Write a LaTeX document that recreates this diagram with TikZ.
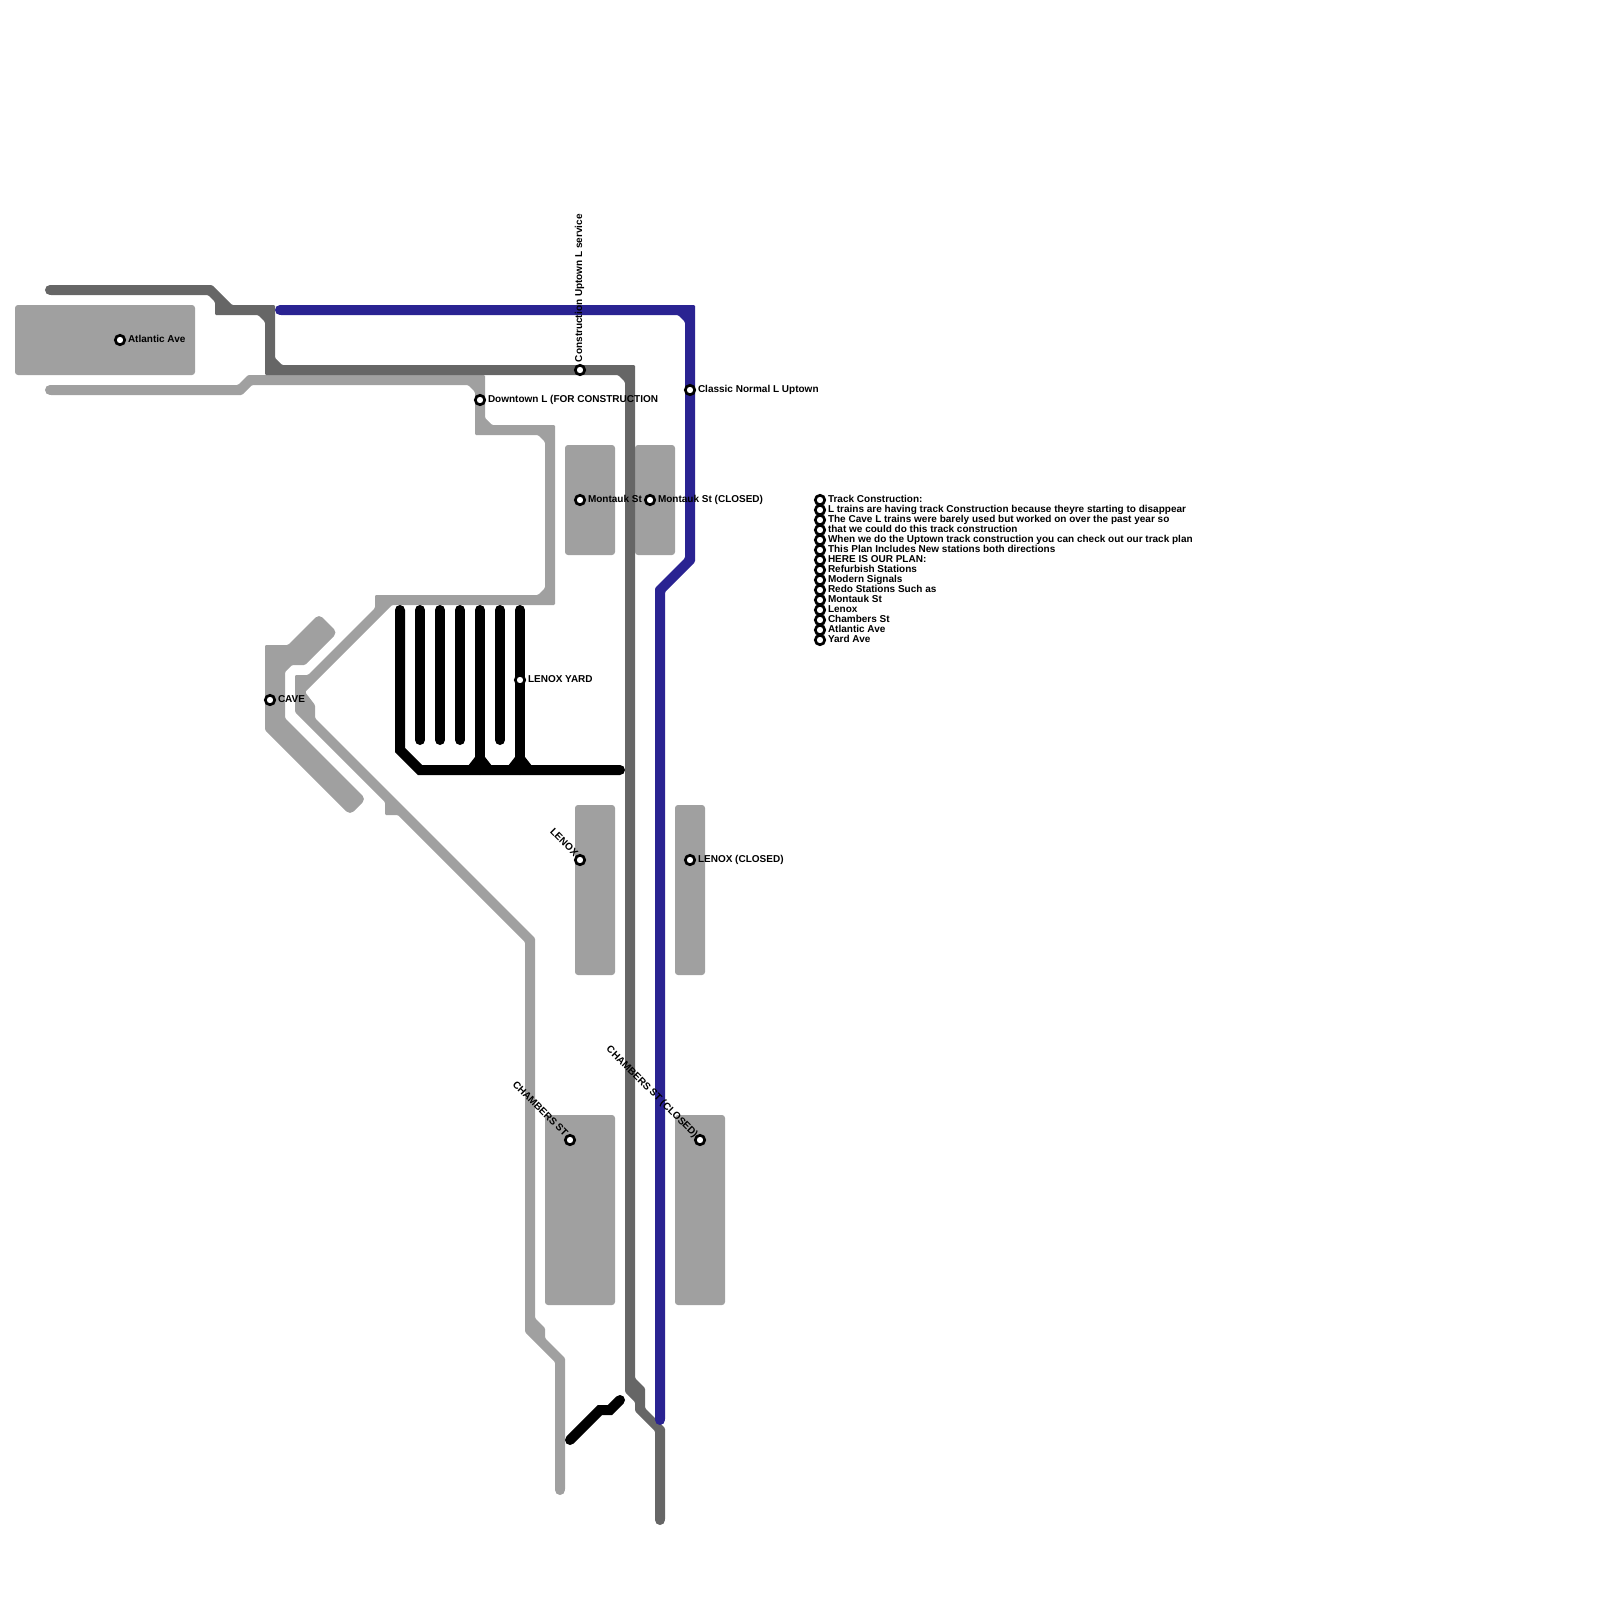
\documentclass[tikz,border=0pt]{standalone}
\usepackage{fontspec}
\setmainfont{Liberation Sans}[Scale=1]
\newfontfamily\lblfont{Liberation Sans Bold}
\definecolor{darkline}{HTML}{666666}
\definecolor{lightline}{HTML}{A0A0A0}
\definecolor{blueline}{HTML}{2A2392}
\tikzset{
  x=0.01cm,y=-0.01cm,
  plat/.style={fill=lightline,draw=none,rounded corners=0.03cm},
  lightshape/.style={fill=lightline,draw=none,rounded corners=0.012cm},
  darkshape/.style={fill=darkline,draw=none,rounded corners=0.012cm},
  blueshape/.style={fill=blueline,draw=none,rounded corners=0.012cm},
  track/.style={line width=0.1cm,line cap=round,line join=miter},
  station/.style={circle,draw=black,fill=white,line width=0.027cm,minimum size=0.094cm,inner sep=0pt,outer sep=0pt},
  lbl/.style={inner sep=0pt,outer sep=0pt,font=\lblfont\fontsize{2.845pt}{3pt}\selectfont,text=black},
  east lbl/.style={lbl,anchor=base west},
}
\begin{document}
\begin{tikzpicture}
\useasboundingbox (0,0) rectangle (1600,1600);
% platforms
\fill[plat] (15,305) rectangle (195,375);
\fill[plat] (565,445) rectangle (615,555);
\fill[plat] (635,445) rectangle (675,555);
\fill[plat] (575,805) rectangle (615,975);
\fill[plat] (675,805) rectangle (705,975);
\fill[plat] (545,1115) rectangle (615,1305);
\fill[plat] (675,1115) rectangle (725,1305);
% cave
\fill[lightshape] (265,645) -- (288,645) [rounded corners=0.05cm] -- (319,614) -- (337.5,632.5) [rounded corners=0.012cm] -- (305,665) -- (292,665) -- (285,672) -- (285,718) [rounded corners=0.05cm] -- (366,799) -- (350,815) [rounded corners=0.012cm] -- (265,730) -- cycle;
% light line
\draw[track,lightline] (50,390) -- (55,390);
\draw[track,lightline] (560,1485) -- (560,1490);
\fill[lightshape] (50,385) -- (238,385) -- (248,375) -- (485,375) -- (485,418) -- (492,425) -- (555,425) -- (555,605) -- (392,605) -- (305,692) -- (315,705) -- (315,718) -- (535,938) -- (535,1318) -- (545,1328) -- (545,1338) -- (565,1358) -- (565,1490) -- (555,1490) -- (555,1362) -- (525,1332) -- (525,942) -- (398,815) -- (385,815) -- (385,802) -- (295,712) -- (295,675) -- (308,675) -- (375,608) -- (375,595) -- (538,595) -- (545,588) -- (545,442) -- (538,435) -- (475,435) -- (475,392) -- (468,385) -- (252,385) -- (242,395) -- (50,395) -- cycle;
% black yard
\draw[track,black] (400,610) -- (400,750) -- (420,770) -- (620,770);
\foreach \xx/\yy in {420/740,440/740,460/740,480/770,500/740,520/770} \draw[track,black] (\xx,610) -- (\xx,\yy);
\fill[black] (468,766) -- (475,757) -- (485,757) -- (492,766) -- cycle;
\fill[black] (508,766) -- (515,757) -- (525,757) -- (532,766) -- cycle;
\draw[track,black] (570,1440) -- (600,1410) -- (610,1410) -- (620,1400);
% dark line
\draw[track,darkline] (50,290) -- (55,290);
\draw[track,darkline] (660,1515) -- (660,1520);
\fill[darkshape] (50,285) -- (212,285) -- (232,305) -- (275,305) -- (275,358) -- (282,365) -- (635,365) -- (635,1378) -- (645,1388) -- (645,1408) -- (665,1428) -- (665,1520) -- (655,1520) -- (655,1431) -- (635,1411) -- (635,1402) -- (625,1392) -- (625,382) -- (618,375) -- (265,375) -- (265,322) -- (258,315) -- (215,315) -- (215,302) -- (208,295) -- (50,295) -- cycle;
% blue line
\draw[track,blueline] (280,310) -- (285,310);
\draw[track,blueline] (660,1415) -- (660,1420);
\fill[blueshape] (280,305) -- (695,305) -- (695,562) -- (665,592) -- (665,1420) -- (655,1420) -- (655,588) -- (685,558) -- (685,322) -- (678,315) -- (280,315) -- cycle;
% stations
\node[station] (atl) at (120,340) {};
\node[station] (cave) at (270,700) {};
\node[station] (cons) at (580,370) {};
\node[station] (down) at (480,400) {};
\node[station] (clas) at (690,390) {};
\node[station] (mon) at (580,500) {};
\node[station] (monc) at (650,500) {};
\node[station] (yard) at (520,680) {};
\node[station] (len) at (580,860) {};
\node[station] (lenc) at (690,860) {};
\node[station] (cha) at (570,1140) {};
\node[station] (chac) at (700,1140) {};
\foreach \i in {0,...,14} \node[station] (n\i) at (820,500+10*\i) {};
% labels
\node[east lbl] (tatl) at (128,342) {Atlantic Ave};
\node[east lbl] (tcave) at (278,702) {CAVE};
\node[lbl,anchor=base west,rotate=90] (tcons) at (582,362) {Construction Uptown L service};
\node[east lbl] (tdown) at (488,402) {Downtown L (FOR CONSTRUCTION};
\node[east lbl] (tclas) at (698,392) {Classic Normal L Uptown};
\node[east lbl] (tmon) at (588,502) {Montauk St};
\node[east lbl] (tmonc) at (658,502) {Montauk St (CLOSED)};
\node[east lbl] (tyard) at (528,682) {LENOX YARD};
\node[lbl,anchor=base east,rotate=-45] (tlen) at (574,857) {LENOX};
\node[east lbl] (tlenc) at (698,862) {LENOX (CLOSED)};
\node[lbl,anchor=base east,rotate=-45] (tcha) at (564,1137) {CHAMBERS ST};
\node[lbl,anchor=base east,rotate=-45] (tchac) at (694,1138) {CHAMBERS ST (CLOSED)};
\node[east lbl] at (828,502) {Track Construction:};
\node[east lbl] at (828,512) {L trains are having track Construction because theyre starting to disappear};
\node[east lbl] at (828,522) {The Cave L trains were barely used but worked on over the past year so};
\node[east lbl] at (828,532) {that we could do this track construction};
\node[east lbl] at (828,542) {When we do the Uptown track construction you can check out our track plan};
\node[east lbl] at (828,552) {This Plan Includes New stations both directions};
\node[east lbl] at (828,562) {HERE IS OUR PLAN:};
\node[east lbl] at (828,572) {Refurbish Stations};
\node[east lbl] at (828,582) {Modern Signals};
\node[east lbl] at (828,592) {Redo Stations Such as};
\node[east lbl] at (828,602) {Montauk St};
\node[east lbl] at (828,612) {Lenox};
\node[east lbl] at (828,622) {Chambers St};
\node[east lbl] at (828,632) {Atlantic Ave};
\node[east lbl] at (828,642) {Yard Ave};
\end{tikzpicture}
\end{document}
